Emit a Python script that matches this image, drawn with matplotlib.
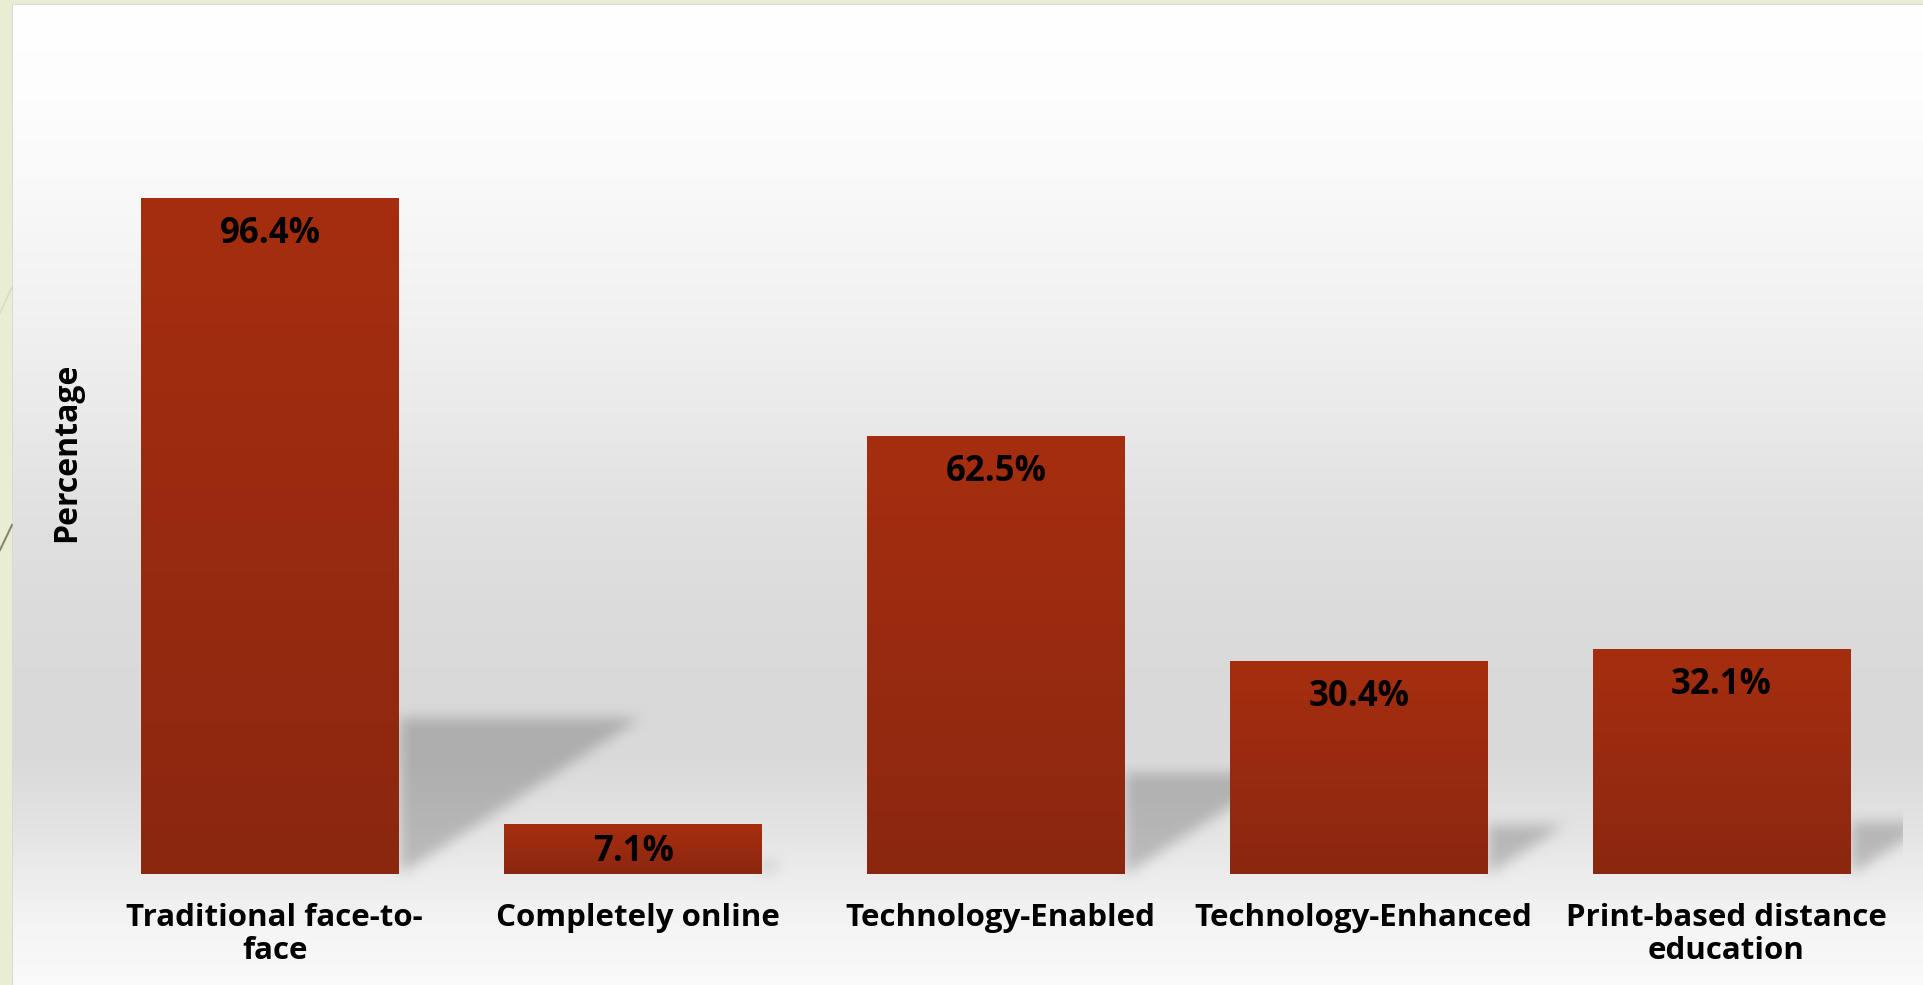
import numpy as np
import matplotlib.pyplot as plt

# Datos del gráfico
categorias = ["Traditional face-to-\nface", "Completely online", "Technology-Enabled",
              "Technology-Enhanced", "Print-based distance\neducation"]
porcentajes = [96.4, 7.1, 62.5, 30.4, 32.1]
etiquetas = ["96.4%", "7.1%", "62.5%", "30.4%", "32.1%"]

W, H = 1924, 985
ancho = 0.711
fuente = "Open Sans"

fig = plt.figure(figsize=(W / 100, H / 100), dpi=100)
fig.patch.set_facecolor("#e8edd4")

# Fondo (diapositiva + degradado + sombras) como imagen
bg = fig.add_axes([0, 0, 1, 1], zorder=0)
ax = fig.add_axes([89 / W, 111 / H, (1903 - 89) / W, 841 / H], zorder=1)
ax.set_xlim(-0.5, len(porcentajes) - 0.5)
ax.set_ylim(0, 120)
ax.patch.set_alpha(0)
for s in ax.spines.values():
    s.set_visible(False)
ax.set_xticks([])
ax.set_yticks([])

filas = np.arange(H)
gris = np.interp(filas, [0, 100, 200, 300, 400, 500, 600, 700, 760, 820, 874, 930, 985],
                 [255, 253, 248, 242, 235, 226, 220, 217, 218, 226, 236, 245, 250]) / 255
img = np.repeat(gris[:, None], W, axis=1)


def suavizar(m, r):
    for eje in (0, 1):
        c = np.cumsum(np.pad(m, [(r + 1, r) if e == eje else (0, 0) for e in (0, 1)], mode="edge"), axis=eje)
        if eje == 0:
            m = (c[2 * r + 1:] - c[:-2 * r - 1]) / (2 * r + 1)
        else:
            m = (c[:, 2 * r + 1:] - c[:, :-2 * r - 1]) / (2 * r + 1)
    return m


# Sombras inclinadas detrás de cada barra
mascara = np.zeros((H, W))
yy, xx = np.mgrid[0:H, 0:W]
for i, h in enumerate(porcentajes):
    xr, yb = ax.transData.transform((i + ancho / 2, 0))
    xc, yt = ax.transData.transform((i + ancho / 2 + 0.0069 * h, 0.232 * h))
    fb, ft = H - yb, H - yt
    dentro = (yy >= ft) & (yy <= fb) & (xx >= xr) & (xx <= xr + (xc - xr) * (fb - yy) / (fb - ft))
    mascara[dentro] = 1
mascara = suavizar(suavizar(mascara, 7), 7)
mascara[:, 1903:] = 0
img = img * (1 - 0.2 * mascara)

rgb = np.dstack([img, img, img])
rgb[:, :12] = np.array([232, 237, 212]) / 255
rgb[:4, :] = np.array([232, 237, 212]) / 255
rgb[4:, 12] = np.array([215, 215, 220]) / 255
rgb[4, 12:] = np.array([218, 218, 224]) / 255
bg.imshow(rgb, extent=(0, W, H, 0), aspect="auto", interpolation="bilinear")
bg.plot([0, 12], [313, 287], color="#d8dcc0", lw=1.2)
bg.plot([0, 12], [550, 525], color="#8c8670", lw=1.5)
bg.set_xlim(0, W)
bg.set_ylim(H, 0)
bg.axis("off")

# Barras con degradado
barras = ax.bar(range(len(porcentajes)), porcentajes, width=ancho, color="#9a2b10", zorder=2)
degradado = np.linspace(0, 1, 256)[:, None]
col_sup = np.array([166, 46, 16]) / 255
col_inf = np.array([139, 39, 15]) / 255
grad_rgb = col_sup[None, None, :] * (1 - degradado[..., None]) + col_inf[None, None, :] * degradado[..., None]
for b, h in zip(barras, porcentajes):
    x0 = b.get_x()
    im = ax.imshow(grad_rgb, extent=(x0, x0 + ancho, 0, h), aspect="auto", zorder=3)
    im.set_clip_path(b)

ax.set_xlim(-0.5, len(porcentajes) - 0.5)
ax.set_ylim(0, 120)

# Etiquetas de valores
for i, (h, t) in enumerate(zip(porcentajes, etiquetas)):
    ax.text(i, max(h - 5.1, h * 0.45), t, ha="center", va="center", fontsize=25,
            fontweight="bold", family=fuente, color="black", zorder=4)

# Etiquetas de categorías
for i, c in enumerate(categorias):
    ax.text(i + 0.012, -0.034, c, transform=ax.get_xaxis_transform(), ha="center", va="top",
            fontsize=22.5, fontweight="bold", family=fuente, color="black", linespacing=1.15)

fig.text(67 / W, 1 - 452 / H, "Percentage", rotation=90, ha="center", va="center",
         fontsize=23, fontweight="bold", family=fuente, color="black")

fig.savefig("out.png", dpi=100, facecolor=fig.get_facecolor())
